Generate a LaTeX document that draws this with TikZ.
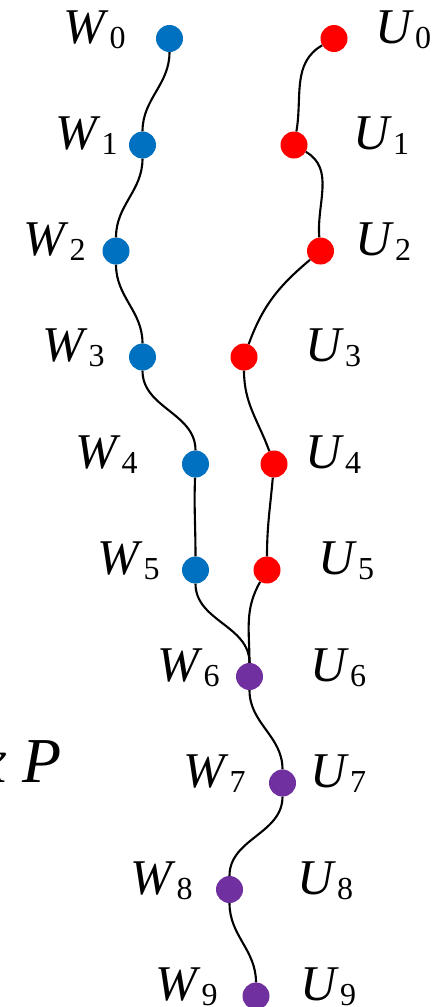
\documentclass[tikz,border=0pt]{standalone}
\usepackage{fontspec}
\setmainfont{Liberation Serif}
\definecolor{dotblue}{HTML}{0070C0}
\definecolor{dotred}{HTML}{FF0000}
\definecolor{dotpurple}{HTML}{7030A0}
\newcommand{\lbl}[2]{\textit{#1}\kern1pt\raisebox{-5pt}{\fontsize{32}{32}\selectfont #2}}
\tikzset{
  dot/.style={circle, minimum size=27pt, inner sep=0pt, draw=none},
  bdot/.style={dot, fill=dotblue},
  rdot/.style={dot, fill=dotred},
  pdot/.style={dot, fill=dotpurple},
  lab/.style={anchor=base west, inner sep=0pt, font=\fontsize{50}{50}\selectfont},
  wire/.style={line width=2.1pt, black},
}
\begin{document}
\begin{tikzpicture}[x=1pt,y=-1pt]
\useasboundingbox (0,0) rectangle (436,1007);
\clip (0,0) rectangle (436,1007);
% dots
\node[bdot] (W0) at (169.5,38.5) {};
\node[bdot] (W1) at (142.5,145) {};
\node[bdot] (W2) at (116,251) {};
\node[bdot] (W3) at (142.5,357) {};
\node[bdot] (W4) at (195.5,464) {};
\node[bdot] (W5) at (195.5,570) {};
\node[rdot] (U0) at (334,38.5) {};
\node[rdot] (U1) at (294,145) {};
\node[rdot] (U2) at (320.5,251) {};
\node[rdot] (U3) at (244,357) {};
\node[rdot] (U4) at (274,464) {};
\node[rdot] (U5) at (267,570) {};
\node[pdot] (M6) at (249.5,676.5) {};
\node[pdot] (M7) at (282.5,783) {};
\node[pdot] (M8) at (229.5,889.5) {};
\node[pdot] (M9) at (256,996) {};
% connectors
\draw[wire] (W0) to[out=-90,in=90] (W1);
\draw[wire] (W1) to[out=-90,in=90] (W2);
\draw[wire] (W2) to[out=-90,in=90] (W3);
\draw[wire] (W3) to[out=-90,in=90] (W4);
\draw[wire] (W4) to[out=-92,in=90] (W5);
\draw[wire] (W5) to[out=-90,in=90] (M6);
\draw[wire] (U0) to[out=-150,in=80] (U1);
\draw[wire] (U1) to[out=-30,in=95] (U2);
\draw[wire] (U2) to[out=-140,in=70] (U3);
\draw[wire] (U3) to[out=-90,in=110] (U4);
\draw[wire] (U4) to[out=-95,in=90] (U5);
\draw[wire] (U5) to[out=-120,in=90] (M6);
\draw[wire] (M6) to[out=-90,in=90] (M7);
\draw[wire] (M7) to[out=-90,in=90] (M8);
\draw[wire] (M8) to[out=-90,in=90] (M9);
% labels
\node[lab] (lW0) at (63,43) {\lbl{W}{0}};
\node[lab] (lW1) at (55,149.5) {\lbl{W}{1}};
\node[lab] (lW2) at (23,255.5) {\lbl{W}{2}};
\node[lab] (lW3) at (42,361.5) {\lbl{W}{3}};
\node[lab] (lW4) at (75,468.5) {\lbl{W}{4}};
\node[lab] (lW5) at (97,574.5) {\lbl{W}{5}};
\node[lab] (lW6) at (157,681) {\lbl{W}{6}};
\node[lab] (lW7) at (183,787.5) {\lbl{W}{7}};
\node[lab] (lW8) at (130,894) {\lbl{W}{8}};
\node[lab] (lW9) at (155,1000.5) {\lbl{W}{9}};
\node[lab] (lU0) at (375,43) {\lbl{U}{0}};
\node[lab] (lU1) at (353,149.5) {\lbl{U}{1}};
\node[lab] (lU2) at (355,255.5) {\lbl{U}{2}};
\node[lab] (lU3) at (305,361.5) {\lbl{U}{3}};
\node[lab] (lU4) at (305,468.5) {\lbl{U}{4}};
\node[lab] (lU5) at (318,574.5) {\lbl{U}{5}};
\node[lab] (lU6) at (310,681) {\lbl{U}{6}};
\node[lab] (lU7) at (310,787.5) {\lbl{U}{7}};
\node[lab] (lU8) at (297,894) {\lbl{U}{8}};
\node[lab] (lU9) at (300,1000.5) {\lbl{U}{9}};
% partial text at left edge
\node[anchor=base east, inner sep=0pt, font=\fontsize{64}{64}\selectfont\itshape] (xp) at (62,782) {x P};
\end{tikzpicture}
\end{document}
